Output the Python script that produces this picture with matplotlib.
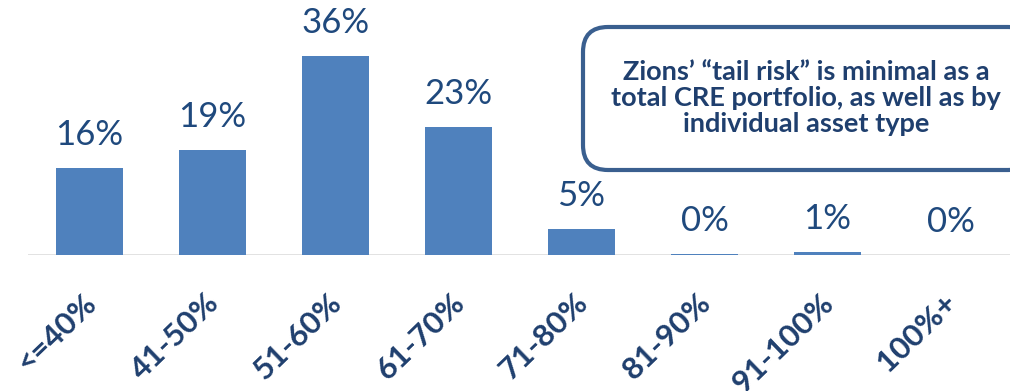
import matplotlib
matplotlib.use('agg')
from matplotlib import pyplot as plt
from matplotlib.patches import FancyBboxPatch
from matplotlib.transforms import ScaledTranslation

# LTV buckets and share of CRE portfolio (%)
buckets = ['<=40%', '41-50%', '51-60%', '61-70%', '71-80%', '81-90%', '91-100%', '100%+']
shares = [15.7, 19.0, 36.0, 23.1, 4.7, 0.2, 0.6, 0.0]
note = 'Zions\u2019 \u201ctail risk\u201d is minimal as a\ntotal CRE portfolio, as well as by\nindividual asset type'

bar_color = '#4F81BD'
label_color = '#1F497D'
navy = '#1F3F6E'

plt.rcParams['font.family'] = ['Lato', 'DejaVu Sans']

fig = plt.figure(figsize=(10.1, 3.91), dpi=100)
ax = fig.add_axes([28 / 1010, 136 / 391, 984 / 1010, 255 / 391])

x = list(range(len(buckets)))
ax.bar(x, shares, width=0.55, color=bar_color, zorder=2)
for xi, v in zip(x, shares):
    ax.text(xi, v + 3.1, f'{v:.0f}%', ha='center', va='bottom',
            fontsize=25, color=label_color)

ax.set_xlim(-0.5, 7.5)
ax.set_ylim(0, 46.1)
ax.axhline(0, color='#D9D9D9', lw=1.8, zorder=1)
for s in ax.spines.values():
    s.set_visible(False)
ax.set_yticks([])
ax.set_xticks(x)
ax.set_xticklabels(buckets, rotation=44, ha='right', va='top',
                   fontsize=22.5, fontweight='bold', color=navy)
ax.tick_params(axis='x', length=0, pad=24)
shift = ScaledTranslation(0.12, 0, fig.dpi_scale_trans)
for lbl in ax.get_xticklabels():
    lbl.set_transform(lbl.get_transform() + shift)

# callout box, drawn in inches so the corners stay round
box = FancyBboxPatch((5.83, 2.21), 4.5, 1.43,
                     boxstyle='round,pad=0,rounding_size=0.25',
                     transform=fig.dpi_scale_trans, facecolor='white',
                     edgecolor='#3A5F8F', lw=3, zorder=5, clip_on=False)
fig.patches.append(box)
fig.text(8.06 / 10.1, 2.93 / 3.91, note, ha='center', va='center',
         fontsize=19.5, fontweight='bold', color=navy, linespacing=1.1,
         zorder=6)

fig.savefig('out.png', dpi=100)
